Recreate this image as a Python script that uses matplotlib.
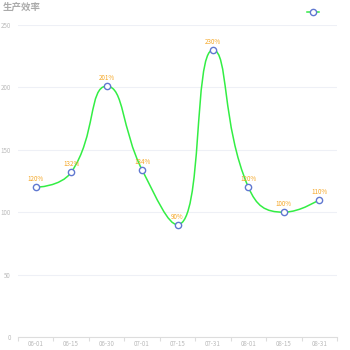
import matplotlib
matplotlib.use("Agg")
import matplotlib.pyplot as plt
from matplotlib.path import Path
from matplotlib.patches import PathPatch
from matplotlib.lines import Line2D
import numpy as np

plt.rcParams['font.family'] = ['Noto Sans CJK SC', 'DejaVu Sans']

# chart data
title = "生产效率"
dates = ["06-01", "06-15", "06-30", "07-01", "07-15", "07-31", "08-01", "08-15", "08-31"]
values = [120, 132, 201, 134, 90, 230, 120, 100, 110]
labels = ["120%", "132%", "201%", "134%", "90%", "230%", "120%", "100%", "110%"]
yticks = [0, 50, 100, 150, 200, 250]


def smooth_path(pts, smooth=0.5):
    # echarts-like smoothing, done in pixel space
    verts = [pts[0]]
    codes = [Path.MOVETO]
    cp0 = pts[0]
    n = len(pts)
    for i in range(1, n):
        prev = pts[i - 1]
        cur = pts[i]
        if i == n - 1:
            cp1 = cur
            ncp0 = cur
        else:
            nxt = pts[i + 1]
            d0 = np.hypot(*(cur - prev))
            d1 = np.hypot(*(nxt - cur))
            v = nxt - prev
            r = d1 / (d0 + d1)
            ncp0 = cur + v * smooth * r
            ncp0 = np.minimum(ncp0, np.maximum(nxt, cur))
            ncp0 = np.maximum(ncp0, np.minimum(nxt, cur))
            v = ncp0 - cur
            cp1 = cur - v * d0 / d1
            cp1 = np.minimum(cp1, np.maximum(prev, cur))
            cp1 = np.maximum(cp1, np.minimum(prev, cur))
            v = cur - cp1
            ncp0 = cur + v * d1 / d0
        verts += [cp0, cp1, cur]
        codes += [Path.CURVE4] * 3
        cp0 = ncp0
    return verts, codes


fig = plt.figure(figsize=(3.5, 3.5), dpi=100)
ax = fig.add_axes([18 / 350, 13 / 350, 319 / 350, 312 / 350])
x = np.arange(len(dates))
ax.set_xlim(-0.5, len(dates) - 0.5)
ax.set_ylim(0, 250)

for s in ["top", "right", "left"]:
    ax.spines[s].set_visible(False)
ax.spines["bottom"].set_color("#dddddd")
ax.spines["bottom"].set_linewidth(0.8)

ax.set_yticks(yticks)
ax.set_yticklabels([str(t) for t in yticks], fontsize=4.5, color="#bbbbbb")
ax.tick_params(axis="y", length=0, pad=5)
ax.grid(axis="y", color="#eef0f6", linewidth=0.8)
ax.set_axisbelow(True)

ax.set_xticks(x)
ax.set_xticklabels(dates, fontsize=4.5, color="#bbbbbb")
ax.tick_params(axis="x", length=0, pad=2.5)
ax.set_xticks(np.arange(len(dates) + 1) - 0.5, minor=True)
ax.tick_params(axis="x", which="minor", length=3, color="#dddddd", width=0.8)

# smooth line in pixel space, back to data coords
pix = ax.transData.transform(np.column_stack([x, values]))
verts, codes = smooth_path([np.array(p) for p in pix])
verts = ax.transData.inverted().transform(np.array(verts))
ax.add_patch(PathPatch(Path(verts, codes), facecolor="none", edgecolor="#33ee44", linewidth=1.1, zorder=3))

ax.plot(x, values, linestyle="none", marker="o", markersize=4.5, markerfacecolor="white",
        markeredgecolor="#6078d0", markeredgewidth=1.0, zorder=4)

for xi, v, lab in zip(x, values, labels):
    ax.annotate(lab, (xi, v), xytext=(0, 3), textcoords="offset points",
                ha="center", va="bottom", fontsize=4.5, color="#f5a623", zorder=5)

fig.text(3 / 350, 1 - 7 / 350, title, fontsize=6.8, fontweight="bold", color="#aaaaaa",
         ha="left", va="center")

# legend symbol without text
h = Line2D([0], [0], color="#33ee44", linewidth=1.1, marker="o", markersize=4.5,
           markerfacecolor="white", markeredgecolor="#6078d0", markeredgewidth=1.0)
fig.legend([h], [""], loc="center", bbox_to_anchor=(313 / 350, 1 - 13 / 350), frameon=False,
           handlelength=0.9, handletextpad=0, borderpad=0)

fig.savefig("out.png", dpi=100)
